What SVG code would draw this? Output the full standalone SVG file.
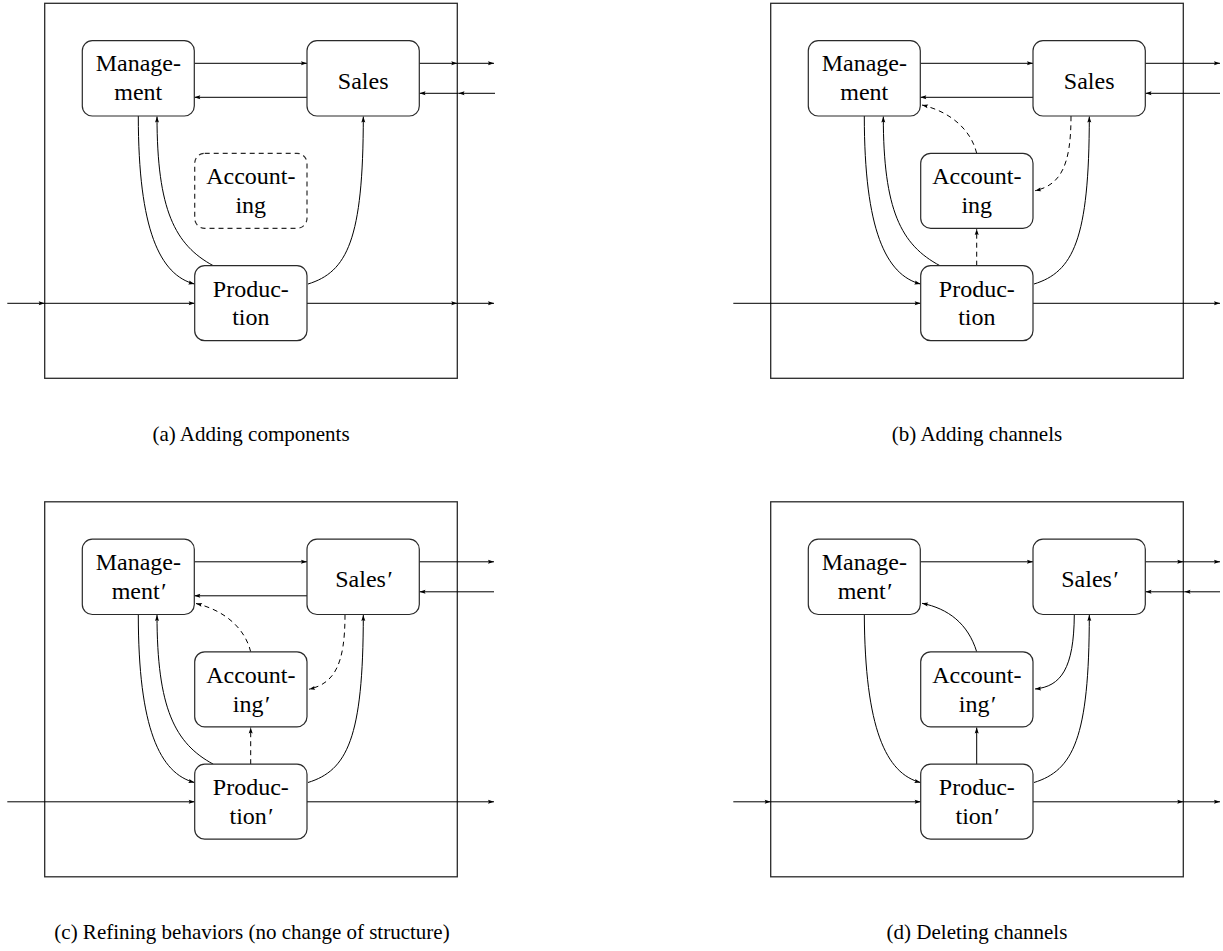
<svg xmlns="http://www.w3.org/2000/svg" width="1223" height="951" viewBox="0 0 1223 951">
<style>
.frame{fill:none;stroke:#2a2a2a;stroke-width:1.3}
.node{fill:#fff;stroke:#2a2a2a;stroke-width:1.2}
.dnode{fill:#fff;stroke:#2a2a2a;stroke-width:1.2;stroke-dasharray:5,4}
.lbl{font-family:"Liberation Serif","Times New Roman",serif;font-size:24px;fill:#000;text-anchor:middle}
.cap{font-family:"Liberation Serif","Times New Roman",serif;font-size:21px;fill:#000;text-anchor:middle}
.pr{font-style:italic}
.c{fill:none;stroke:#000;stroke-width:1;marker-end:url(#ah)}
.d{fill:none;stroke:#000;stroke-width:1;stroke-dasharray:5,4;marker-end:url(#ah)}
</style>
<defs>
<marker id="ah" markerUnits="userSpaceOnUse" markerWidth="7" markerHeight="5" refX="6" refY="2" orient="auto" overflow="visible">
<path d="M0,0 L6,2 L0,4 L1,2 z" fill="#000"/>
</marker>
</defs>
<rect width="1223" height="951" fill="#fff"/>

<!-- Panel (a) -->
<g id="panel-a">
<rect class="frame" x="44.7" y="3.3" width="412.6" height="375"/>
<g id="a-connectors">
<path class="c" d="M194.3,63.3 H307"/>
<path class="c" d="M307,97.3 H194.3"/>
<path class="c" d="M419.3,63.3 H457.3"/>
<path class="c" d="M457.3,63.3 H494"/>
<path class="c" d="M495,93.3 H458.5"/>
<path class="c" d="M458.5,93.3 H419.5"/>
<path class="c" d="M7.3,303.3 H44.7"/>
<path class="c" d="M44.7,303.3 H194.7"/>
<path class="c" d="M307,303.3 H457.3"/>
<path class="c" d="M457.3,303.3 H494"/>
<path class="c" d="M138.3,116 C138.3,230 160,275 194.5,284"/>
<path class="c" d="M213.3,265.7 C175,245 157,210 157,116.5"/>
<path class="c" d="M308,284 C347,272 363.3,240 363.3,116.5"/>
</g>
<g id="a-management"><rect class="node" x="82.3" y="40.7" width="112" height="75.3" rx="10"/><text class="lbl" x="138.3" y="71">Manage-</text><text class="lbl" x="138.3" y="100">ment</text></g>
<g id="a-sales"><rect class="node" x="307" y="40.7" width="112.3" height="75.3" rx="10"/><text class="lbl" x="363.2" y="88.5">Sales</text></g>
<g id="a-accounting"><rect class="dnode" x="194.7" y="153.3" width="112.3" height="75" rx="10"/><text class="lbl" x="250.8" y="184">Account-</text><text class="lbl" x="250.8" y="213">ing</text></g>
<g id="a-production"><rect class="node" x="194.7" y="265.7" width="112.3" height="75" rx="10"/><text class="lbl" x="250.8" y="296.5">Produc-</text><text class="lbl" x="250.8" y="325">tion</text></g>
<text class="cap" x="251" y="440.5">(a) Adding components</text>
</g>

<!-- Panel (b) -->
<g id="panel-b" transform="translate(726,0)">
<rect class="frame" x="44.7" y="3.3" width="412.6" height="375"/>
<g id="b-connectors">
<path class="c" d="M194.3,63.3 H307"/>
<path class="c" d="M307,97.3 H194.3"/>
<path class="c" d="M419.3,63.3 H494"/>
<path class="c" d="M494,93.3 H419.5"/>
<path class="c" d="M7.3,303.3 H194.7"/>
<path class="c" d="M307,303.3 H494"/>
<path class="c" d="M138.3,116 C138.3,230 160,275 194.5,284"/>
<path class="c" d="M214,265.7 C175,245 157.3,210 157.3,116.5"/>
<path class="c" d="M308,284 C347,272 363.3,240 363.3,116.5"/>
<path class="d" d="M250.7,153.3 C245,130 225,112 196,105"/>
<path class="d" d="M345,116 C345,165 335,185 309,190.7"/>
<path class="d" d="M250.7,265.7 V229"/>
</g>
<g id="b-management"><rect class="node" x="82.3" y="40.7" width="112" height="75.3" rx="10"/><text class="lbl" x="138.3" y="71">Manage-</text><text class="lbl" x="138.3" y="100">ment</text></g>
<g id="b-sales"><rect class="node" x="307" y="40.7" width="112.3" height="75.3" rx="10"/><text class="lbl" x="363.2" y="88.5">Sales</text></g>
<g id="b-accounting"><rect class="node" x="194.7" y="153.3" width="112.3" height="75" rx="10"/><text class="lbl" x="250.8" y="184">Account-</text><text class="lbl" x="250.8" y="213">ing</text></g>
<g id="b-production"><rect class="node" x="194.7" y="265.7" width="112.3" height="75" rx="10"/><text class="lbl" x="250.8" y="296.5">Produc-</text><text class="lbl" x="250.8" y="325">tion</text></g>
<text class="cap" x="251" y="440.5">(b) Adding channels</text>
</g>

<!-- Panel (c) -->
<g id="panel-c" transform="translate(0,498.5)">
<rect class="frame" x="44.7" y="3.3" width="412.6" height="375"/>
<g id="c-connectors">
<path class="c" d="M194.3,63.3 H307"/>
<path class="c" d="M307,97.3 H194.3"/>
<path class="c" d="M419.3,63.3 H494"/>
<path class="c" d="M494,93.3 H419.5"/>
<path class="c" d="M7.3,303.3 H194.7"/>
<path class="c" d="M307,303.3 H494"/>
<path class="c" d="M138.3,116 C138.3,230 160,275 194.5,284"/>
<path class="c" d="M213.3,265.7 C175,245 157,210 157,116.5"/>
<path class="c" d="M308,284 C347,272 363.3,240 363.3,116.5"/>
<path class="d" d="M250.7,153.3 C245,130 225,112 196,105"/>
<path class="d" d="M345,116 C345,165 335,185 309,190.7"/>
<path class="d" d="M250.7,265.7 V229"/>
</g>
<g id="c-management"><rect class="node" x="82.3" y="40.7" width="112" height="75.3" rx="10"/><text class="lbl" x="138.3" y="71">Manage-</text><text class="lbl" x="138.3" y="100">ment<tspan class="pr">′</tspan></text></g>
<g id="c-sales"><rect class="node" x="307" y="40.7" width="112.3" height="75.3" rx="10"/><text class="lbl" x="363.2" y="88.5">Sales<tspan class="pr">′</tspan></text></g>
<g id="c-accounting"><rect class="node" x="194.7" y="153.3" width="112.3" height="75" rx="10"/><text class="lbl" x="250.8" y="184">Account-</text><text class="lbl" x="250.8" y="213">ing<tspan class="pr">′</tspan></text></g>
<g id="c-production"><rect class="node" x="194.7" y="265.7" width="112.3" height="75" rx="10"/><text class="lbl" x="250.8" y="296.5">Produc-</text><text class="lbl" x="250.8" y="325">tion<tspan class="pr">′</tspan></text></g>
<text class="cap" x="252" y="440.5">(c) Refining behaviors (no change of structure)</text>
</g>

<!-- Panel (d) -->
<g id="panel-d" transform="translate(726,498.5)">
<rect class="frame" x="44.7" y="3.3" width="412.6" height="375"/>
<g id="d-connectors">
<path class="c" d="M194.3,63.3 H307"/>
<path class="c" d="M419.3,63.3 H457.3"/>
<path class="c" d="M457.3,63.3 H494"/>
<path class="c" d="M494,93.3 H458.5"/>
<path class="c" d="M458.5,93.3 H419.5"/>
<path class="c" d="M7.3,303.3 H44.7"/>
<path class="c" d="M44.7,303.3 H194.7"/>
<path class="c" d="M307,303.3 H457.3"/>
<path class="c" d="M457.3,303.3 H494"/>
<path class="c" d="M138.3,116 C139,230 160,275 194.5,284"/>
<path class="c" d="M308,284 C347,272 363.3,240 363.3,116.5"/>
<path class="c" d="M250.7,153.3 C242,125 222,110 196,104.8"/>
<path class="c" d="M348.3,116 C348,170 335,188 309,190.5"/>
<path class="c" d="M250.7,265.7 V229"/>
</g>
<g id="d-management"><rect class="node" x="82.3" y="40.7" width="112" height="75.3" rx="10"/><text class="lbl" x="138.3" y="71">Manage-</text><text class="lbl" x="138.3" y="100">ment<tspan class="pr">′</tspan></text></g>
<g id="d-sales"><rect class="node" x="307" y="40.7" width="112.3" height="75.3" rx="10"/><text class="lbl" x="363.2" y="88.5">Sales<tspan class="pr">′</tspan></text></g>
<g id="d-accounting"><rect class="node" x="194.7" y="153.3" width="112.3" height="75" rx="10"/><text class="lbl" x="250.8" y="184">Account-</text><text class="lbl" x="250.8" y="213">ing<tspan class="pr">′</tspan></text></g>
<g id="d-production"><rect class="node" x="194.7" y="265.7" width="112.3" height="75" rx="10"/><text class="lbl" x="250.8" y="296.5">Produc-</text><text class="lbl" x="250.8" y="325">tion<tspan class="pr">′</tspan></text></g>
<text class="cap" x="251" y="440.5">(d) Deleting channels</text>
</g>
</svg>
